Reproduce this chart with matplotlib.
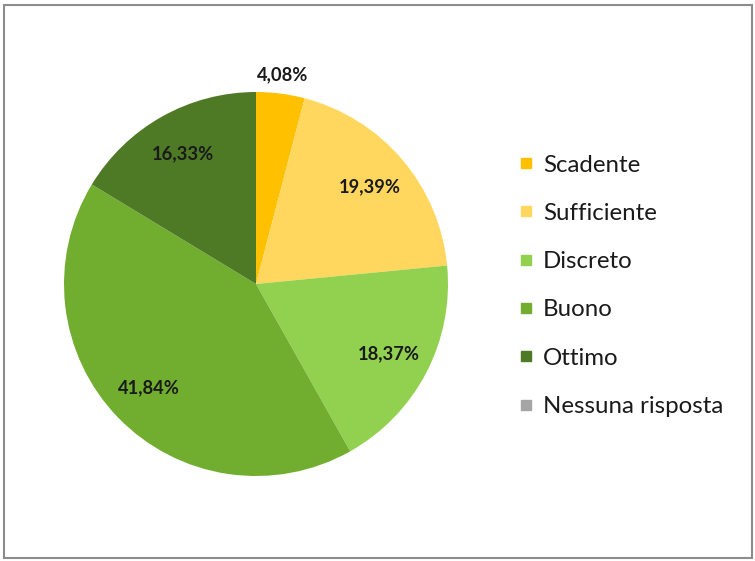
import numpy as np
import matplotlib
matplotlib.use('Agg')
import matplotlib.pyplot as plt
from matplotlib.lines import Line2D
from matplotlib.patches import Rectangle

# Giudizi e percentuali
categories = ['Scadente', 'Sufficiente', 'Discreto', 'Buono', 'Ottimo', 'Nessuna risposta']
values = [4.08, 19.39, 18.37, 41.84, 16.33, 0.0]
colors = ['#FFC000', '#FFD75E', '#92D050', '#71AD2F', '#4E7A25', '#A5A5A5']

W, H = 755, 561
fig = plt.figure(figsize=(W / 100, H / 100), dpi=100)
fig.patch.set_facecolor('white')

# grey frame around the chart area
fig.patches.append(Rectangle((3.5 / W, 3.5 / H), (W - 7) / W, (H - 8) / H,
                             transform=fig.transFigure, fill=False,
                             edgecolor='#8C8C8C', linewidth=1.5))

# pie axes: centre (256, 284) px, radius 192 px
cx, cy, r = 256, H - 284, 192
ax = fig.add_axes([(cx - r) / W, (cy - r) / H, 2 * r / W, 2 * r / H])
nz = [(v, c) for v, c in zip(values, colors) if v > 0]
wedges, _ = ax.pie([v for v, _ in nz], colors=[c for _, c in nz],
                   startangle=90, counterclock=False, radius=1,
                   wedgeprops=dict(linewidth=0))
ax.set_xlim(-1, 1)
ax.set_ylim(-1, 1)
ax.set_aspect('equal')
ax.axis('off')

label_font = dict(family=['Lato', 'DejaVu Sans'], fontsize=13.2, fontweight='bold',
                  color='#1a1a1a')
for w, (v, _) in zip(wedges, nz):
    mid = np.deg2rad((w.theta1 + w.theta2) / 2)
    d = 1.10 if v < 5 else 0.78
    ax.text(d * np.cos(mid), d * np.sin(mid), f'{v:.2f}%'.replace('.', ','),
            ha='center', va='center', **label_font)

handles = [Line2D([], [], marker='s', linestyle='', markersize=7.5,
                  markerfacecolor=c, markeredgecolor=c) for c in colors]
fig.legend(handles, categories, loc='upper left',
           bbox_to_anchor=(497.5 / W, 1 - 133 / H), frameon=False,
           prop=dict(family=['Lato', 'DejaVu Sans'], size=17.3),
           labelspacing=1.135, handlelength=0.6, handletextpad=0.4,
           labelcolor='#1a1a1a')

fig.savefig('out.png', dpi=100, facecolor='white')
